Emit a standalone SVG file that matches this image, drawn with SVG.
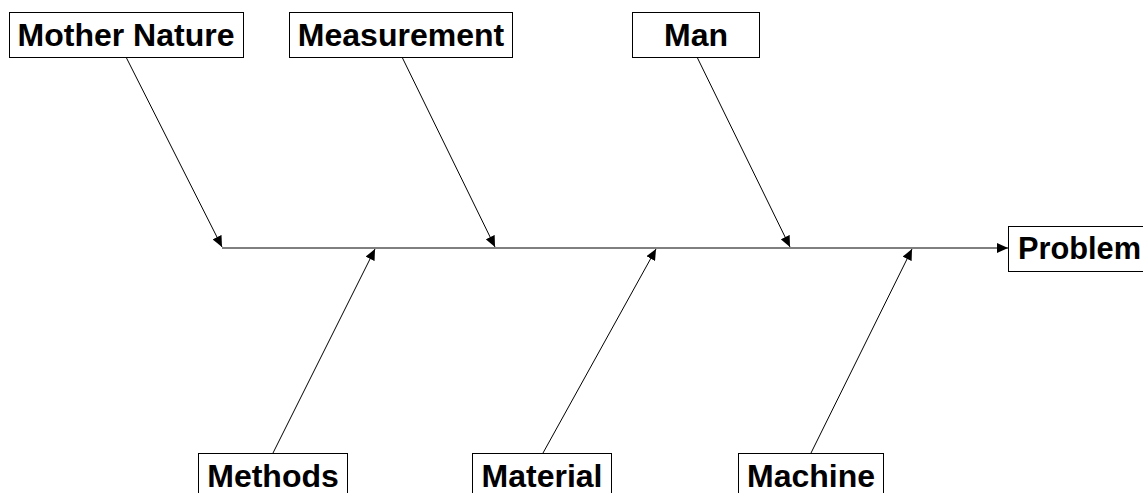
<svg xmlns="http://www.w3.org/2000/svg" width="1143" height="493" viewBox="0 0 1143 493">
<style>
.box{fill:#fff;stroke:#000;stroke-width:1}
.lbl{font-family:"Liberation Sans",Arial,sans-serif;font-weight:bold;font-size:32px;fill:#000;text-anchor:middle}
.ln{stroke:#000;stroke-width:1;fill:none;marker-end:url(#ah)}
</style>
<defs>
<marker id="ah" markerUnits="userSpaceOnUse" markerWidth="12" markerHeight="10" refX="11" refY="5" orient="auto">
<path d="M0,0 L11,5 L0,10 Z" fill="#000"/>
</marker>
</defs>
<rect width="1143" height="493" fill="#fff"/>
<g id="connectors">
<line class="ln" x1="222" y1="248" x2="1008" y2="248"/>
<line class="ln" x1="126" y1="57" x2="222" y2="247"/>
<line class="ln" x1="402" y1="57" x2="495" y2="247"/>
<line class="ln" x1="697" y1="57" x2="790" y2="247"/>
<line class="ln" x1="273" y1="453" x2="375" y2="249"/>
<line class="ln" x1="543" y1="453" x2="656" y2="249"/>
<line class="ln" x1="811" y1="453" x2="912" y2="249"/>
</g>
<g id="mother-nature"><rect class="box" x="9.5" y="12.5" width="234" height="45"/><text class="lbl" x="126" y="46">Mother Nature</text></g>
<g id="measurement"><rect class="box" x="289.5" y="12.5" width="223" height="45"/><text class="lbl" x="401" y="46">Measurement</text></g>
<g id="man"><rect class="box" x="632.5" y="12.5" width="127" height="45"/><text class="lbl" x="696" y="46">Man</text></g>
<g id="problem"><rect class="box" x="1008.5" y="226.5" width="150" height="45"/><text class="lbl" x="1018" y="259" style="text-anchor:start" textLength="123" lengthAdjust="spacingAndGlyphs">Problem</text></g>
<g id="methods"><rect class="box" x="198.5" y="453.5" width="149" height="45"/><text class="lbl" x="273" y="487">Methods</text></g>
<g id="material"><rect class="box" x="472.5" y="453.5" width="139" height="45"/><text class="lbl" x="542" y="487">Material</text></g>
<g id="machine"><rect class="box" x="738.5" y="453.5" width="145" height="45"/><text class="lbl" x="811" y="487">Machine</text></g>
</svg>
